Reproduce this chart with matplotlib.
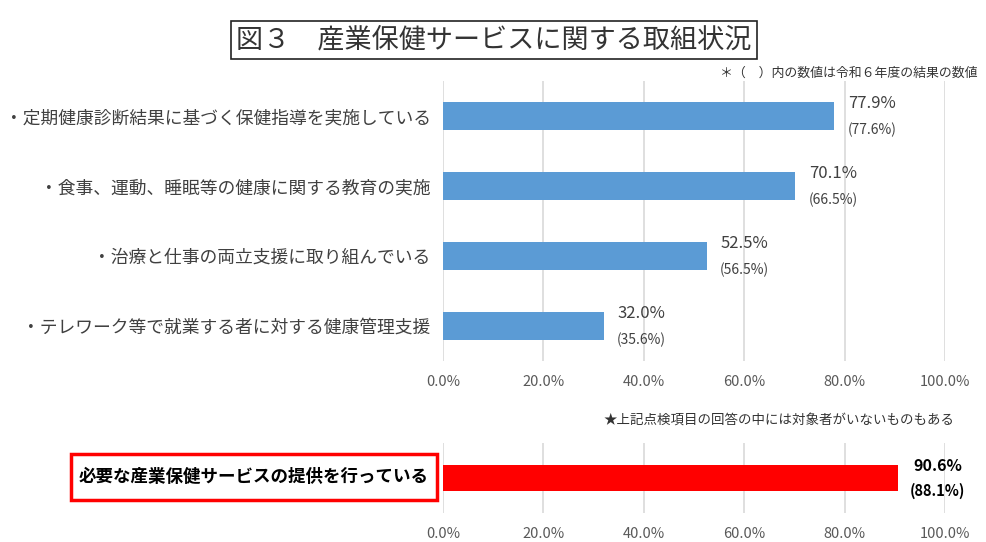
import matplotlib
matplotlib.use("Agg")
import matplotlib.pyplot as plt
from matplotlib.patches import Rectangle

plt.rcParams['font.family'] = ['Noto Sans CJK JP', 'DejaVu Sans']

categories = [
    "・定期健康診断結果に基づく保健指導を実施している",
    "・食事、運動、睡眠等の健康に関する教育の実施",
    "・治療と仕事の両立支援に取り組んでいる",
    "・テレワーク等で就業する者に対する健康管理支援",
]
values_now = [77.9, 70.1, 52.5, 32.0]
values_prev = [77.6, 66.5, 56.5, 35.6]

bottom_category = "必要な産業保健サービスの提供を行っている"
bottom_now = [90.6]
bottom_prev = [88.1]

xticks = [0, 20, 40, 60, 80, 100]
xticklabels = ["0.0%", "20.0%", "40.0%", "60.0%", "80.0%", "100.0%"]

W, H = 986, 542
fig = plt.figure(figsize=(W / 100, H / 100), dpi=100)

grid_c = "#d9d9d9"
tick_c = "#595959"
text_c = "#404040"


def px_axes(x0, y0, x1, y1):
    return fig.add_axes([x0 / W, 1 - y1 / H, (x1 - x0) / W, (y1 - y0) / H])


def style(ax):
    ax.set_xlim(0, 100)
    ax.set_xticks(xticks)
    ax.set_xticklabels(xticklabels)
    ax.tick_params(axis='x', length=0, pad=10, labelsize=10.5, labelcolor=tick_c)
    ax.tick_params(axis='y', length=0)
    for s in ax.spines.values():
        s.set_visible(False)
    ax.grid(axis='x', color=grid_c, linewidth=1.2)
    ax.set_axisbelow(True)


# top chart
ax = px_axes(443, 81, 945, 361)
y = list(range(len(categories)))
ax.barh(y, values_now, height=0.4, color="#5B9BD5", zorder=2)
ax.set_ylim(len(categories) - 0.5, -0.5)
ax.set_yticks(y)
ax.set_yticklabels(categories, fontsize=12.8, color=text_c)
ax.tick_params(axis='y', pad=9)
style(ax)
for yi, v, p in zip(y, values_now, values_prev):
    ax.annotate(f"{v:.1f}%", (v, yi), xytext=(38, 12), textcoords="offset pixels",
                ha="center", va="center", fontsize=12, color=text_c)
    ax.annotate(f"({p:.1f}%)", (v, yi), xytext=(38, -14), textcoords="offset pixels",
                ha="center", va="center", fontsize=10, color=text_c)

# bottom chart
ax2 = px_axes(443, 443, 945, 513)
ax2.barh([0], bottom_now, height=0.37, color="#FF0000", zorder=2)
ax2.set_ylim(-0.5, 0.5)
ax2.set_yticks([])
style(ax2)
for v, p in zip(bottom_now, bottom_prev):
    ax2.annotate(f"{v:.1f}%", (v, 0), xytext=(40, 12), textcoords="offset pixels",
                 ha="center", va="center", fontsize=11.5, color="black", fontweight="bold")
    ax2.annotate(f"({p:.1f}%)", (v, 0), xytext=(40, -13), textcoords="offset pixels",
                 ha="center", va="center", fontsize=10.5, color="black", fontweight="bold")

# red-boxed label
fig.patches.append(Rectangle((71 / W, 1 - 500 / H), (437 - 71) / W, (500 - 454) / H,
                             transform=fig.transFigure, fill=False,
                             edgecolor="#FF0000", linewidth=2.5))
fig.text(254 / W, 1 - 477 / H, bottom_category, ha="center", va="center",
         fontsize=12.6, fontweight="bold", color="black")

# title
fig.text(494 / W, 1 - 40 / H, "図３　産業保健サービスに関する取組状況", ha="center", va="center",
         fontsize=19.5, color="#333333",
         bbox=dict(boxstyle="square,pad=0.2", facecolor="white", edgecolor="#222222", linewidth=1.2))

# notes
fig.text(978 / W, 1 - 73 / H, "＊（　）内の数値は令和６年度の結果の数値", ha="right", va="center",
         fontsize=9.3, color="#333333")
fig.text(779 / W, 1 - 420 / H, "★上記点検項目の回答の中には対象者がいないものもある", ha="center", va="center",
         fontsize=9.7, color="#333333")

fig.savefig("out.png", dpi=100)
